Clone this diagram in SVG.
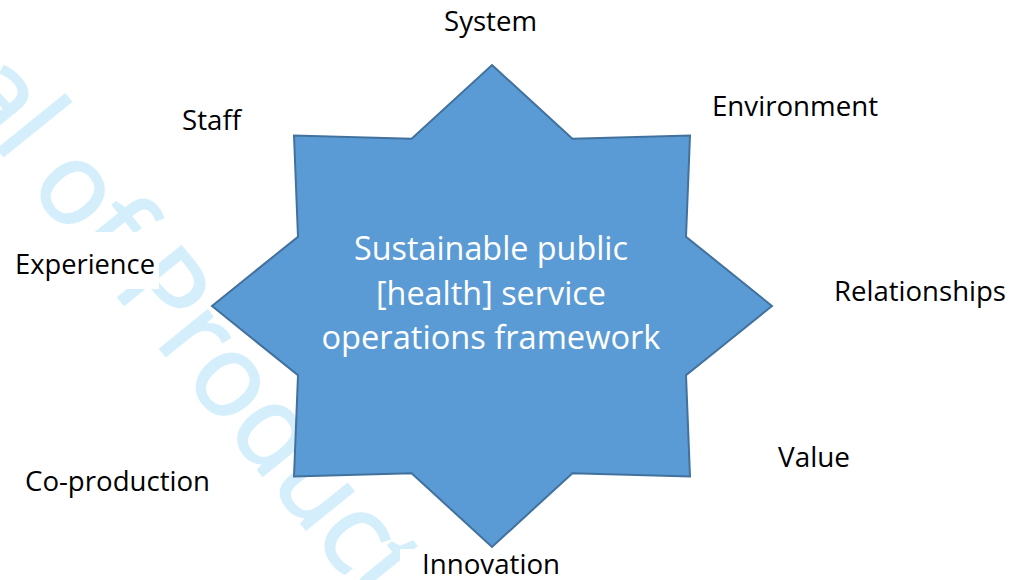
<svg xmlns="http://www.w3.org/2000/svg" width="1013" height="580" viewBox="0 0 1013 580">
  <defs>
    <style>
      .label { font-family: "Open Sans", "Noto Sans", "Liberation Sans", sans-serif; font-size: 27.5px; fill: #000000; text-anchor: middle; }
      .core { font-family: "Open Sans", "Noto Sans", "Liberation Sans", sans-serif; font-size: 32.5px; fill: #ffffff; text-anchor: middle; }
      .box { fill: #ffffff; stroke: none; }
      .star { fill: #5b9bd5; stroke: #41719c; stroke-width: 2; stroke-linejoin: miter; }
      .mark { font-family: "Open Sans", "Noto Sans", "Liberation Sans", sans-serif; font-size: 114px; letter-spacing: -1px; fill: #d4effb; stroke: #d4effb; stroke-width: 2; }
    </style>
  </defs>
  <rect x="0" y="0" width="1013" height="580" fill="#ffffff"/>

  <!-- background page mark -->
  <text class="mark" transform="translate(-224,-125.4) rotate(51)" x="0" y="0">Journal of Production</text>

  <!-- central eight-point star -->
  <g id="framework">
    <polygon class="star" points="492,65 572.4,138.8 690,135.6 686,236.7 772,306 686,375.3 690,476.4 572.4,473.2 492,547 411.6,473.2 294,476.4 298,375.3 212,306 298,236.7 294,135.6 411.6,138.8"/>
    <text class="core" x="491" y="260" textLength="274" lengthAdjust="spacingAndGlyphs">Sustainable public</text>
    <text class="core" x="491" y="305" textLength="230" lengthAdjust="spacingAndGlyphs">[health] service</text>
    <text class="core" x="491" y="349" textLength="339" lengthAdjust="spacingAndGlyphs">operations framework</text>
  </g>

  <!-- surrounding dimension labels -->
  <g id="system">
    <text class="label" x="490.5" y="31" textLength="93" lengthAdjust="spacingAndGlyphs">System</text>
  </g>
  <g id="environment">
    <text class="label" x="795" y="116" textLength="166" lengthAdjust="spacingAndGlyphs">Environment</text>
  </g>
  <g id="staff">
    <text class="label" x="211.5" y="130" textLength="59" lengthAdjust="spacingAndGlyphs">Staff</text>
  </g>
  <g id="experience">
    <rect class="box" x="4" y="232" width="155" height="57"/>
    <text class="label" x="85" y="274" textLength="140" lengthAdjust="spacingAndGlyphs">Experience</text>
  </g>
  <g id="relationships">
    <text class="label" x="920" y="301" textLength="172" lengthAdjust="spacingAndGlyphs">Relationships</text>
  </g>
  <g id="value">
    <text class="label" x="814" y="467" textLength="72" lengthAdjust="spacingAndGlyphs">Value</text>
  </g>
  <g id="co-production">
    <text class="label" x="117.5" y="491" textLength="185" lengthAdjust="spacingAndGlyphs">Co-production</text>
  </g>
  <g id="innovation">
    <rect class="box" x="400" y="549" width="182" height="31"/>
    <text class="label" x="491" y="574" textLength="138" lengthAdjust="spacingAndGlyphs">Innovation</text>
  </g>

  <!-- no connectors are drawn between the star and its labels -->
  <g id="connectors"/>
</svg>
